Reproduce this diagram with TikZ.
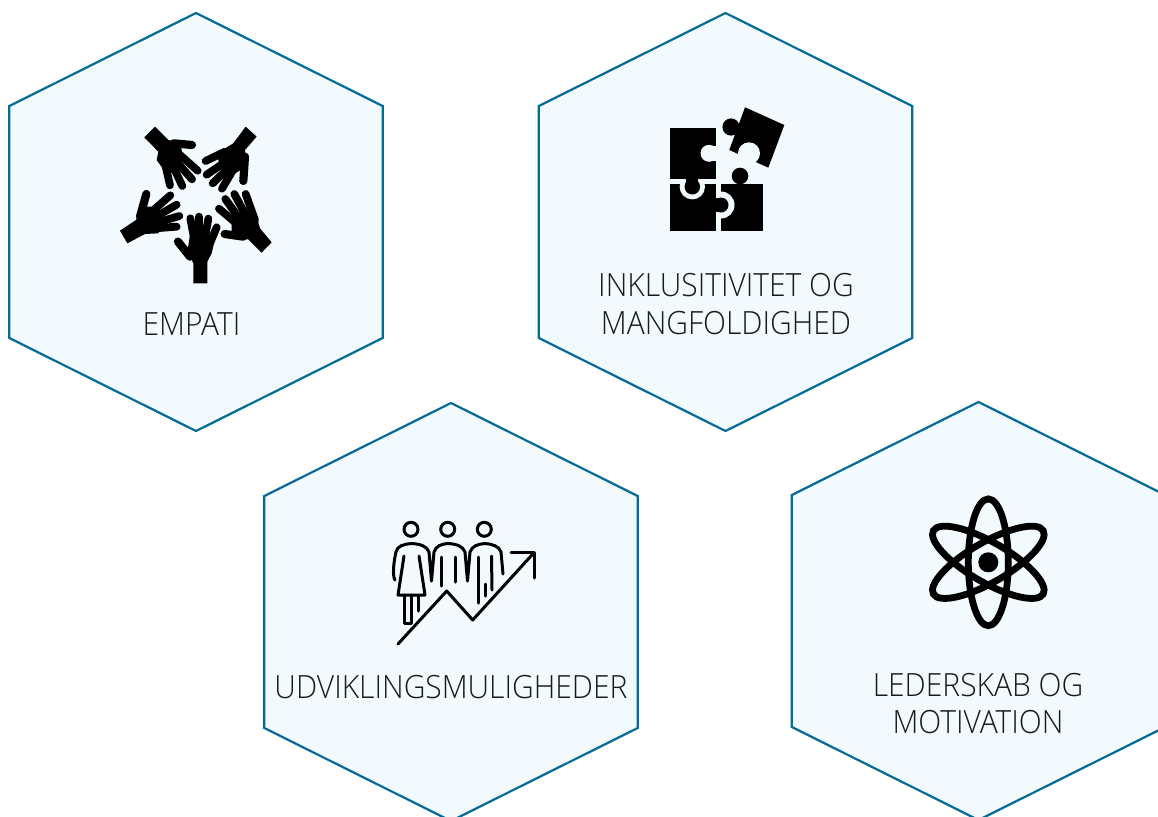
\documentclass[tikz,border=0pt]{standalone}
\usepackage{fontspec}
\setmainfont[FakeStretch=0.937]{Open Sans Light}
\definecolor{hexline}{HTML}{046A96}
\definecolor{hexfill}{HTML}{F2FAFD}
\definecolor{labeltext}{HTML}{1A1A1A}
\tikzset{
  hexa/.style={draw=hexline,fill=hexfill,line width=2.2pt,line join=miter},
  lab/.style={text=labeltext,font=\fontsize{32pt}{38pt}\selectfont,inner sep=0pt,anchor=center},
  icon/.style={line width=3pt,line cap=round,line join=round,draw=black},
  finger/.style={line width=7.8pt,line cap=round,draw=black},
  thumbf/.style={line width=8.2pt,line cap=round,draw=black}
}
\newcommand{\hexat}[2]{\draw[hexa] (#1,#2) -- ++(186.7,93) -- ++(0,232) -- ++(-186.7,93) -- ++(-186.7,-93) -- ++(0,-232) -- cycle;}
\begin{document}
\begin{tikzpicture}[x=1pt,y=-1pt]
\useasboundingbox (0,0) rectangle (1158,816);
\clip (0,0) rectangle (1158,816);
\hexat{196}{13}
\hexat{725.5}{13}
\hexat{451}{403}
\hexat{978.5}{402}
\node[lab] (tempati) at (191.5,324) {EMPATI};
\node[lab] (tinkl) at (726,285) {INKLUSITIVITET OG};
\node[lab] (tmang) at (726,323) {MANGFOLDIGHED};
\node[lab] (tudv) at (451,687) {UDVIKLINGSMULIGHEDER};
\node[lab] (tled) at (978,685) {LEDERSKAB OG};
\node[lab] (tmot) at (978,722) {MOTIVATION};
% hands, traced in 3x crop coordinates
\begin{scope}[shift={(100,110)},x=0.3333pt,y=-0.3333pt]
  % bottom
  \fill (280,520) -- (322,520) -- (322,455) -- (335,430) -- (343,395) -- (345,375) -- (270,375) -- (262,425) -- (280,460) -- cycle;
  \draw[finger] (285,400) -- (271,325);
  \draw[finger] (297,400) -- (297,320);
  \draw[finger] (312,400) -- (325,326);
  \draw[finger] (330,400) -- (350,352);
  \draw[thumbf] (270,440) -- (234,395);
  % upper left
  \fill (133,82) -- (165,50) -- (205,90) -- (240,100) -- (250,140) -- (225,190) -- (195,185) -- (170,150) -- (175,125) -- cycle;
  \draw[finger] (240,135) -- (293,182);
  \draw[finger] (225,150) -- (276,208);
  \draw[finger] (215,160) -- (247,228);
  \draw[finger] (195,160) -- (210,226);
  \draw[thumbf] (220,100) -- (276,105);
  % upper right
  \fill (437,50) -- (470,80) -- (435,120) -- (440,170) -- (405,190) -- (360,170) -- (350,130) -- (400,100) -- cycle;
  \draw[finger] (375,125) -- (317,153);
  \draw[finger] (385,150) -- (320,194);
  \draw[finger] (395,165) -- (338,220);
  \draw[finger] (405,170) -- (366,236);
  \draw[thumbf] (435,140) -- (430,213);
  % left
  \fill (60,362) -- (82,400) -- (135,372) -- (175,370) -- (190,340) -- (170,290) -- (130,290) -- (108,330) -- cycle;
  \draw[finger] (150,310) -- (211,256);
  \draw[finger] (160,325) -- (230,284);
  \draw[finger] (165,340) -- (238,318);
  \draw[finger] (165,355) -- (230,350);
  \draw[thumbf] (120,320) -- (139,252);
  % right
  \fill (515,397) -- (485,428) -- (445,388) -- (395,385) -- (395,340) -- (430,300) -- (470,320) -- (480,355) -- cycle;
  \draw[finger] (465,330) -- (437,252);
  \draw[finger] (445,330) -- (403,252);
  \draw[finger] (425,335) -- (376,267);
  \draw[finger] (415,345) -- (357,296);
  \draw[thumbf] (430,380) -- (374,372);
\end{scope}
% puzzle
\fill (720.7,184) rectangle (762.7,230.7);
\fill (740,176) circle (8.3);
\fill[hexfill] (721,205) circle (13.5);
\fill (670,184) rectangle (715.7,230.7);
\fill (708,198) rectangle (722,212);
\fill (721,205) circle (7.5);
\fill[hexfill] (692.3,186.7) circle (12.7);
\fill (670,128.3) rectangle (715.7,178.7);
\fill (686,176) rectangle (698,186);
\fill (692.3,186.7) circle (7.8);
\fill[hexfill] (709,153.3) circle (8.5);
\fill[hexfill] (709,146) rectangle (718,161);
\fill (745,107.3) -- (784.3,125) -- (768.3,167.7) -- (729.3,150) -- cycle;
\fill (731,127) circle (8.6);
\fill[hexfill] (749,153.3) circle (11);
% people
\foreach \hx in {411,447.7,484.3} \draw[icon] (\hx,529.3) circle (7);
\draw[icon] (395,580) .. controls (392,576) and (394,560) .. (396,552) .. controls (397,546) and (404,544) .. (411.5,543.5) .. controls (420,544) and (427,546) .. (429,552) -- (431.5,581) -- (434,552) .. controls (436,546) and (441,544) .. (448,543.5) .. controls (456,544) and (463,546) .. (465,552) -- (467.5,581) -- (470,552) .. controls (472,546) and (478,544) .. (485,543.5) .. controls (492,544) and (499,546) .. (501,552) -- (503,574);
\draw[icon] (404,556) -- (398,595) -- (425,595) -- (419,556);
\draw[icon] (404.5,595) -- (404.5,623) -- (411.5,623) -- (411.5,595);
\draw[icon] (418,595) -- (418,611);
\draw[icon] (441,557) -- (441,586);
\draw[icon] (455,557) -- (455,582);
\draw[icon] (478.5,557) -- (478.5,603);
\draw[icon] (491.5,556) -- (492,590);
\draw[icon] (485,584) -- (485,596);
\draw[icon] (398,644) -- (446.7,591) -- (472.7,620) -- (534,552.7);
\draw[icon] (511,552.7) -- (534,552.7) -- (534,578);
% atom
\begin{scope}[shift={(988.3,562.3)}]
\foreach \a in {0,60,-60}
  \draw[line width=6.8pt,rotate=\a] (0,0) ellipse (20 and 63.4);
\fill (0,0) circle (10);
\end{scope}
\end{tikzpicture}
\end{document}
